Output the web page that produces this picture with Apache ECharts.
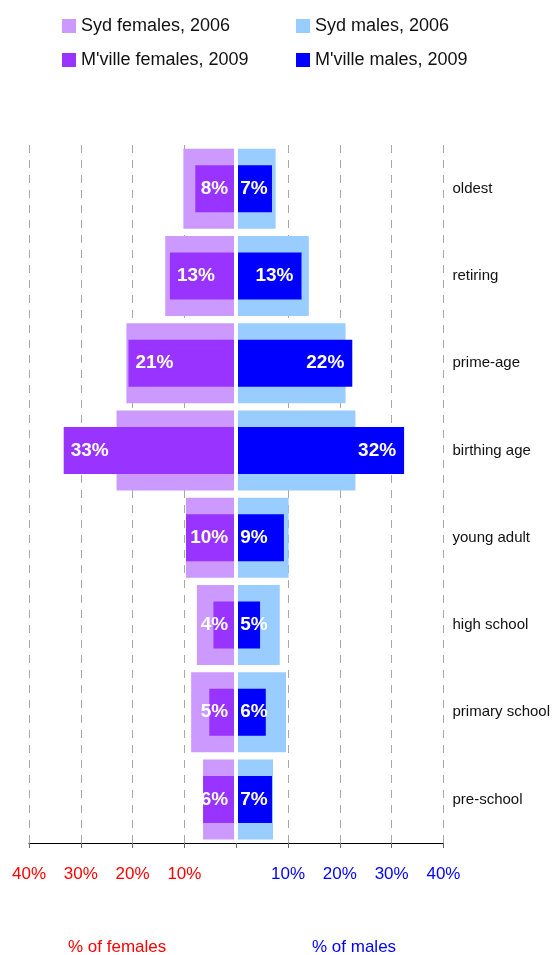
<!DOCTYPE html>
<html>
<head>
<meta charset="utf-8">
<script src="https://cdn.jsdelivr.net/npm/echarts@6/dist/echarts.min.js"></script>
<style>
html,body{margin:0;padding:0;background:#fff;}
#chart{width:553px;height:955px;}
</style>
</head>
<body>
<div id="chart"></div>
<script>
var categories = ['oldest', 'retiring', 'prime-age', 'birthing age', 'young adult', 'high school', 'primary school', 'pre-school'];
var sydFemales2006 = [10.2, 13.7, 21.2, 23.1, 9.7, 7.6, 8.7, 6.4];
var sydMales2006 = [7.6, 14.0, 21.1, 23.0, 10.1, 8.4, 9.6, 7.1];
var mvilleFemales2009 = [7.9, 12.8, 20.8, 33.3, 9.7, 4.4, 5.2, 6.4];
var mvilleMales2009 = [6.9, 12.6, 22.4, 32.4, 9.2, 4.6, 5.7, 6.9];
var xTicks = [-40, -30, -20, -10, 0, 10, 20, 30, 40];

var FONT = "'Liberation Sans', Arial, Helvetica, sans-serif";
var C_SYD_F = '#CC99FF', C_SYD_M = '#99CCFF', C_MV_F = '#9933FF', C_MV_M = '#0000FF';

function femaleData(arr, labelled) {
  return arr.map(function (v) {
    var d = { value: -v };
    if (labelled) {
      d.label = v >= 11 ? { position: 'insideLeft', distance: 7 } : { position: 'insideRight', distance: 8 };
    }
    return d;
  });
}
function maleData(arr, labelled) {
  return arr.map(function (v) {
    var d = { value: v };
    if (labelled) {
      d.label = v >= 11 ? { position: 'insideRight', distance: 8 } : { position: 'insideLeft', distance: 4 };
    }
    return d;
  });
}
var barLabel = {
  show: true,
  color: '#fff',
  fontFamily: FONT,
  fontWeight: 'bold',
  fontSize: 19,
  formatter: function (p) { return Math.round(Math.abs(p.value)) + '%'; }
};

var chart = echarts.init(document.getElementById('chart'), null, { renderer: 'canvas' });
chart.setOption({
  animation: false,
  backgroundColor: '#fff',
  textStyle: { fontFamily: FONT },
  legend: [
    {
      data: ['Syd females, 2006', "M'ville females, 2009"],
      orient: 'vertical', left: 57, top: 12, itemWidth: 14, itemHeight: 14, itemGap: 16,
      icon: 'rect', selectedMode: false, padding: 5,
      textStyle: { fontSize: 18, color: '#111', fontFamily: FONT }
    },
    {
      data: ['Syd males, 2006', "M'ville males, 2009"],
      orient: 'vertical', left: 291, top: 12, itemWidth: 14, itemHeight: 14, itemGap: 16,
      icon: 'rect', selectedMode: false, padding: 5,
      textStyle: { fontSize: 18, color: '#111', fontFamily: FONT }
    }
  ],
  grid: { left: 29, right: 108, top: 145, height: 698, containLabel: false },
  xAxis: {
    type: 'value', min: xTicks[0], max: xTicks[xTicks.length - 1], interval: 10,
    axisLine: { show: true, lineStyle: { color: '#000', width: 1 } },
    axisTick: { show: true, length: 5, lineStyle: { color: '#666' } },
    splitLine: { show: true, lineStyle: { color: '#a8a8a8', type: [8, 7], width: 1 } },
    axisLabel: {
      margin: 23,
      fontSize: 17,
      fontFamily: FONT,
      formatter: function (v) {
        if (v < 0) return '{r|' + Math.abs(v) + '%}';
        if (v > 0) return '{b|' + v + '%}';
        return '';
      },
      rich: {
        r: { color: '#ff0000', fontSize: 17, fontFamily: FONT },
        b: { color: '#0000ff', fontSize: 17, fontFamily: FONT }
      }
    }
  },
  yAxis: [
    {
      type: 'category', data: categories, inverse: true, position: 'right',
      axisLine: { show: false }, axisTick: { show: false }, splitLine: { show: false },
      axisLabel: { margin: 9, fontSize: 15, color: '#111', fontFamily: FONT }
    },
    {
      type: 'category', data: categories, inverse: true, show: false
    }
  ],
  graphic: [
    { type: 'text', left: 68, top: 939, style: { text: '% of females', fill: '#ff0000', font: '17px ' + FONT } },
    { type: 'text', left: 312, top: 939, style: { text: '% of males', fill: '#0000ff', font: '17px ' + FONT } }
  ],
  series: [
    {
      name: 'Syd females, 2006', type: 'bar', yAxisIndex: 0, stack: 'syd', barWidth: 80,
      itemStyle: { color: C_SYD_F }, data: femaleData(sydFemales2006, false)
    },
    {
      name: 'Syd males, 2006', type: 'bar', yAxisIndex: 0, stack: 'syd', barWidth: 80,
      itemStyle: { color: C_SYD_M }, data: maleData(sydMales2006, false)
    },
    {
      name: "M'ville females, 2009", type: 'bar', yAxisIndex: 1, stack: 'mv', barWidth: 47,
      itemStyle: { color: C_MV_F }, label: barLabel, data: femaleData(mvilleFemales2009, true)
    },
    {
      name: "M'ville males, 2009", type: 'bar', yAxisIndex: 1, stack: 'mv', barWidth: 47,
      itemStyle: { color: C_MV_M }, label: barLabel, data: maleData(mvilleMales2009, true),
      markLine: {
        silent: true, symbol: ['none', 'none'], label: { show: false },
        lineStyle: { color: '#fff', width: 4, type: 'solid' },
        data: [{ xAxis: 0 }]
      }
    }
  ]
});
</script>
</body>
</html>
